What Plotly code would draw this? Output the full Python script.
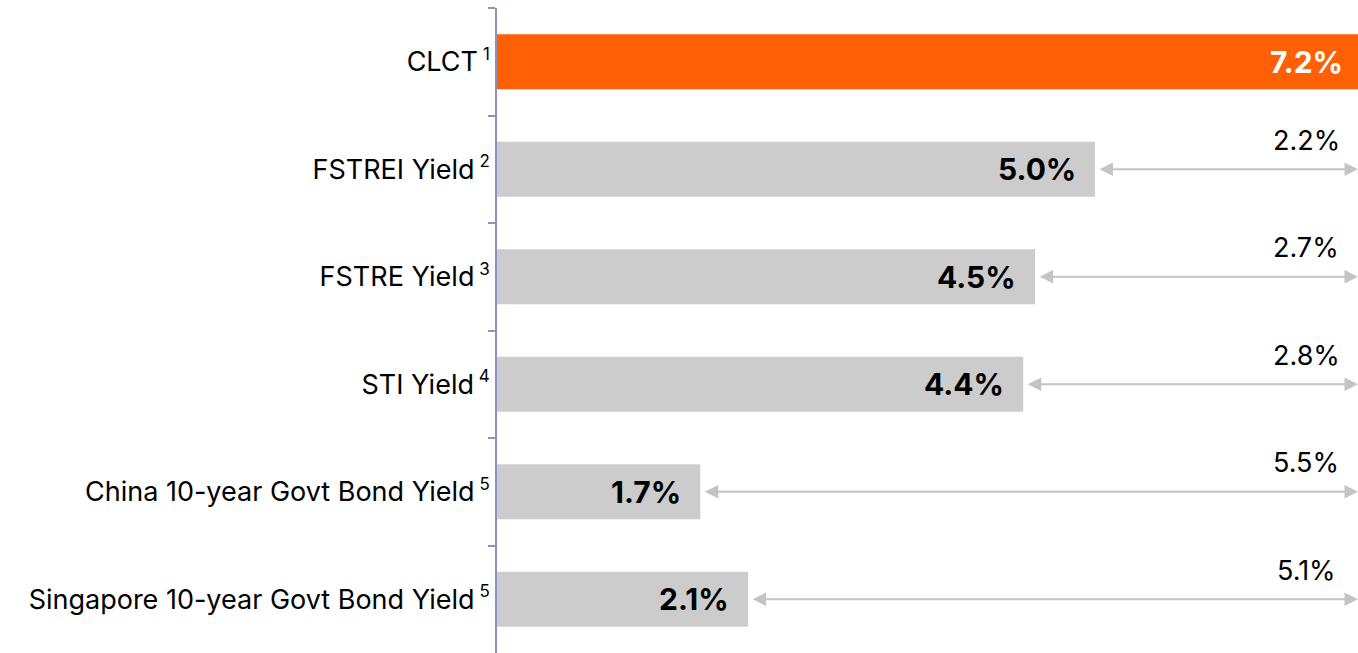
import plotly.graph_objects as go

SUP = "\u2009<sup><span style='font-size:17px'>%s</span></sup>"
categories = ["CLCT" + SUP % "1", "FSTREI Yield" + SUP % "2", "FSTRE Yield" + SUP % "3",
              "STI Yield" + SUP % "4", "China 10-year Govt Bond Yield" + SUP % "5",
              "Singapore 10-year Govt Bond Yield" + SUP % "5"]
yields = [7.2, 5.0, 4.5, 4.4, 1.7, 2.1]
spreads = [None, 2.2, 2.7, 2.8, 5.5, 5.1]

ORANGE = "#ff6005"
GREY = "#cccccc"
AXIS = "#8f8fc4"
FONT = "Inter, Roboto, sans-serif"

colors = [ORANGE] + [GREY] * (len(yields) - 1)

fig = go.Figure()
fig.add_trace(go.Bar(
    x=yields, y=categories, orientation="h",
    marker=dict(color=colors, line=dict(width=0)),
    width=0.51, hoverinfo="skip",
))

top = yields[0]
annotations = []
for i, (cat, val, sp) in enumerate(zip(categories, yields, spreads)):
    # value label inside bar, near the end
    annotations.append(dict(
        x=val, y=cat, xref="x", yref="y", text="<b>%.1f%%</b>" % val,
        showarrow=False, xanchor="right", xshift=-13 if i == 0 else -17,
        font=dict(family=FONT, size=30, color="white" if i == 0 else "black"),
    ))
    if sp is None:
        continue
    # double arrow showing gap to CLCT
    annotations.append(dict(
        x=top, y=cat, ax=val, ay=cat, xref="x", yref="y", axref="x", ayref="y",
        text="", showarrow=True, arrowside="end+start", arrowhead=2, startarrowhead=2,
        arrowsize=1.35, startarrowsize=1.35, arrowwidth=2, arrowcolor="#c4c4c4",
        startstandoff=3,
    ))
    annotations.append(dict(
        x=top, y=cat, xref="x", yref="y", text="%.1f%%" % sp,
        showarrow=False, xanchor="center", xshift=-52, yshift=29,
        font=dict(family=FONT, size=27, color="black"),
    ))

fig.update_layout(
    width=1358, height=653,
    margin=dict(l=497, r=0, t=8, b=0),
    paper_bgcolor="white", plot_bgcolor="white",
    showlegend=False,
    annotations=annotations,
    xaxis=dict(range=[0, top], visible=False, fixedrange=True),
    yaxis=dict(
        autorange="reversed", type="category",
        showline=True, linecolor=AXIS, linewidth=1.5,
        ticks="outside", tickson="boundaries", ticklen=7, tickcolor=AXIS, tickwidth=1.5,
        tickfont=dict(family=FONT, size=27, color="black"),
        showgrid=False, zeroline=False,
    ),
)

fig.write_html("out.html", config={"displayModeBar": False},
               post_script="document.body.style.margin='0';document.body.style.overflow='hidden';")
